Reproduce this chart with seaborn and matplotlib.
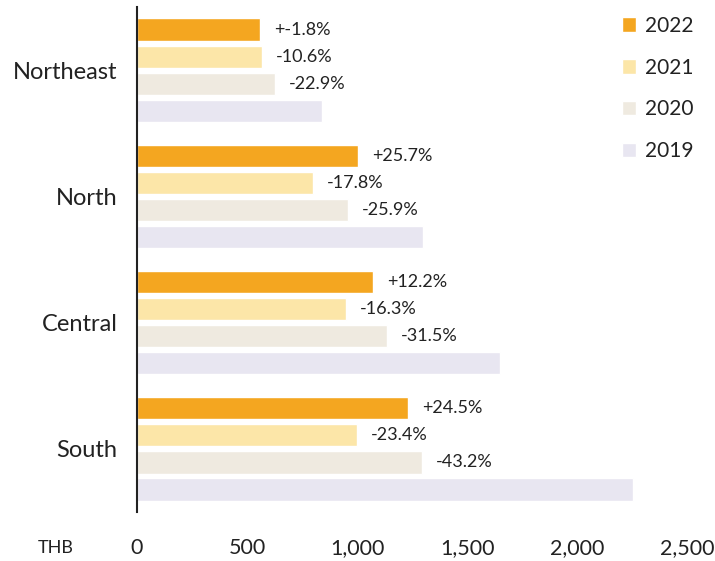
import matplotlib
matplotlib.use("Agg")
import matplotlib.pyplot as plt
import seaborn as sns
import pandas as pd

# Average spend per region (THB) by year, with year-on-year change labels
regions = ["Northeast", "North", "Central", "South"]
years = ["2022", "2021", "2020", "2019"]
spend_2022 = [559, 1005, 1073, 1232]
spend_2021 = [568, 800, 950, 1000]
spend_2020 = [627, 959, 1136, 1295]
spend_2019 = [841, 1300, 1650, 2255]
change_2022 = ["+-1.8%", "+25.7%", "+12.2%", "+24.5%"]
change_2021 = ["-10.6%", "-17.8%", "-16.3%", "-23.4%"]
change_2020 = ["-22.9%", "-25.9%", "-31.5%", "-43.2%"]
change_2019 = ["", "", "", ""]
x_ticks = [0, 500, 1000, 1500, 2000, 2500]
x_tick_labels = ["0", "500", "1,000", "1,500", "2,000", "2,500"]
year_colors = ["#F4A620", "#FCE6A8", "#EFEAE0", "#E8E6F1"]

series = {"2022": spend_2022, "2021": spend_2021, "2020": spend_2020, "2019": spend_2019}
labels = [change_2022, change_2021, change_2020, change_2019]

df = pd.DataFrame(
    [(r, y, series[y][i]) for y in years for i, r in enumerate(regions)],
    columns=["region", "year", "spend"],
)

sns.set_theme(style="white")
plt.rcParams["font.family"] = ["Lato", "DejaVu Sans"]

fig = plt.figure(figsize=(7.15, 5.61), dpi=100)
ax = fig.add_axes([0.1916, 0.0873, 0.7694, 0.9002])

sns.barplot(
    data=df, y="region", x="spend", hue="year",
    order=regions, hue_order=years, palette=year_colors,
    orient="h", width=0.857, gap=0.18, saturation=1, ax=ax,
)

for container, labs in zip(ax.containers, labels):
    ax.bar_label(container, labels=labs, padding=10, fontsize=13, color="#222222")

ax.set_xlim(0, 2500)
ax.set_ylim(3.5, -0.5)
ax.set_xticks(x_ticks)
ax.set_xticklabels(x_tick_labels, fontsize=15.5, color="#222222")
ax.tick_params(axis="x", length=0, pad=19)
ax.tick_params(axis="y", length=0, pad=14, labelsize=17, labelcolor="#222222")
ax.set_xlabel("")
ax.set_ylabel("")
for side in ["top", "right", "bottom"]:
    ax.spines[side].set_visible(False)
ax.spines["left"].set_color("#222222")
ax.spines["left"].set_linewidth(1.5)

ax.text(-0.147, -0.072, "THB", transform=ax.transAxes, fontsize=13,
        color="#222222", ha="center", va="center")

leg = ax.legend(
    loc="upper right", bbox_to_anchor=(1.045, 1.02), frameon=False,
    fontsize=15, handlelength=0.7, handleheight=0.7, handletextpad=0.4,
    labelspacing=1.05,
)
for t in leg.get_texts():
    t.set_color("#222222")

fig.savefig("out.png", dpi=100)
